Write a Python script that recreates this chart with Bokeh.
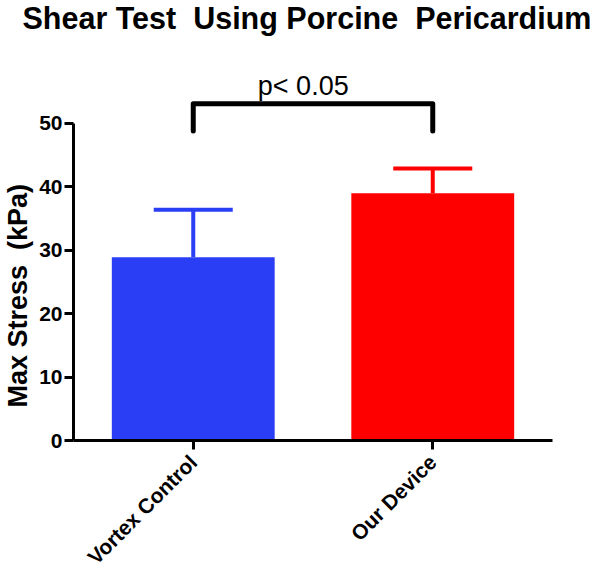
import math
from bokeh.plotting import figure
from bokeh.models import FactorRange, Range1d, Title, ColumnDataSource, FixedTicker
from bokeh.transform import dodge
from bokeh.core.properties import value
from bokeh.embed import file_html
from bokeh.resources import INLINE

# ---- data ----
categories = ["Vortex Control", "Our Device"]
means = [28.9, 39.0]
errors = [7.5, 3.9]
colors = ["#2a3ff5", "#ff0000"]
y_ticks = [0, 10, 20, 30, 40, 50]
title_text = "Shear Test\u00a0 Using Porcine\u00a0 Pericardium"
y_label = "Max Stress\u00a0 (kPa)"
p_label = "p< 0.05"
bracket_low = 48.8
bracket_high = 53.1
p_label_y = 55.9

FONT = "Liberation Sans"

upper = [m + e for m, e in zip(means, errors)]
src = ColumnDataSource(dict(cat=categories, mean=means, upper=upper, color=colors))

p = figure(width=600, height=582,
           x_range=FactorRange(factors=categories, range_padding=0),
           y_range=Range1d(0, 63.7),
           output_backend="svg", toolbar_location=None,
           min_border_left=73, min_border_right=48,
           min_border_top=36, min_border_bottom=142)

p.title.text = title_text
p.title.text_font = FONT
p.title.text_font_size = "30.5px"
p.title.text_font_style = "bold"
p.title.text_color = "black"
p.title.align = "left"
p.title.offset = -51
p.title.vertical_align = "top"
p.title.standoff = 0

ylab = Title(text=y_label, align="left", offset=33, standoff=4,
             vertical_align="top", text_font=FONT,
             text_font_size="27px", text_font_style="bold", text_color="black")
p.add_layout(ylab, "left")

p.outline_line_color = None
p.xgrid.visible = False
p.ygrid.visible = False
p.background_fill_color = "white"
p.border_fill_color = "white"

# bars
p.vbar(x="cat", top="mean", bottom=0, width=0.68, fill_color="color",
       line_color=None, source=src)
# error stems
p.segment(x0="cat", y0="mean", x1="cat", y1="upper", line_color="color",
          line_width=4, source=src)
# error caps
p.segment(x0=dodge("cat", -0.165, range=p.x_range), y0="upper",
          x1=dodge("cat", 0.165, range=p.x_range), y1="upper",
          line_color="color", line_width=4, source=src)

# significance bracket
p.line(x=[categories[0], categories[0], categories[1], categories[1]],
       y=[bracket_low, bracket_high, bracket_high, bracket_low],
       line_color="black", line_width=5, line_join="round", line_cap="round")
p.text(x=[categories[0]], y=[p_label_y], text=[p_label], x_offset=110,
       text_font=value(FONT), text_font_size="27px", text_align="center",
       text_baseline="alphabetic", text_color="black")

# axes
for ax in (p.xaxis[0], p.yaxis[0]):
    ax.axis_line_width = 3
    ax.axis_line_color = "black"
    ax.major_tick_line_width = 3
    ax.major_tick_line_color = "black"
    ax.major_tick_out = 9
    ax.major_tick_in = 0
    ax.minor_tick_line_color = None
    ax.major_label_text_font = FONT
    ax.major_label_text_font_style = "bold"
    ax.major_label_text_color = "black"

p.yaxis.ticker = FixedTicker(ticks=y_ticks)
p.yaxis.bounds = (0, 50)
p.yaxis.major_label_text_font_size = "21px"
p.yaxis.major_label_standoff = 2

p.xaxis.major_label_text_font_size = "21px"
p.xaxis.major_label_orientation = math.pi / 4
p.xaxis.major_label_standoff = 9

open("out.html", "w").write(file_html(p, INLINE))
